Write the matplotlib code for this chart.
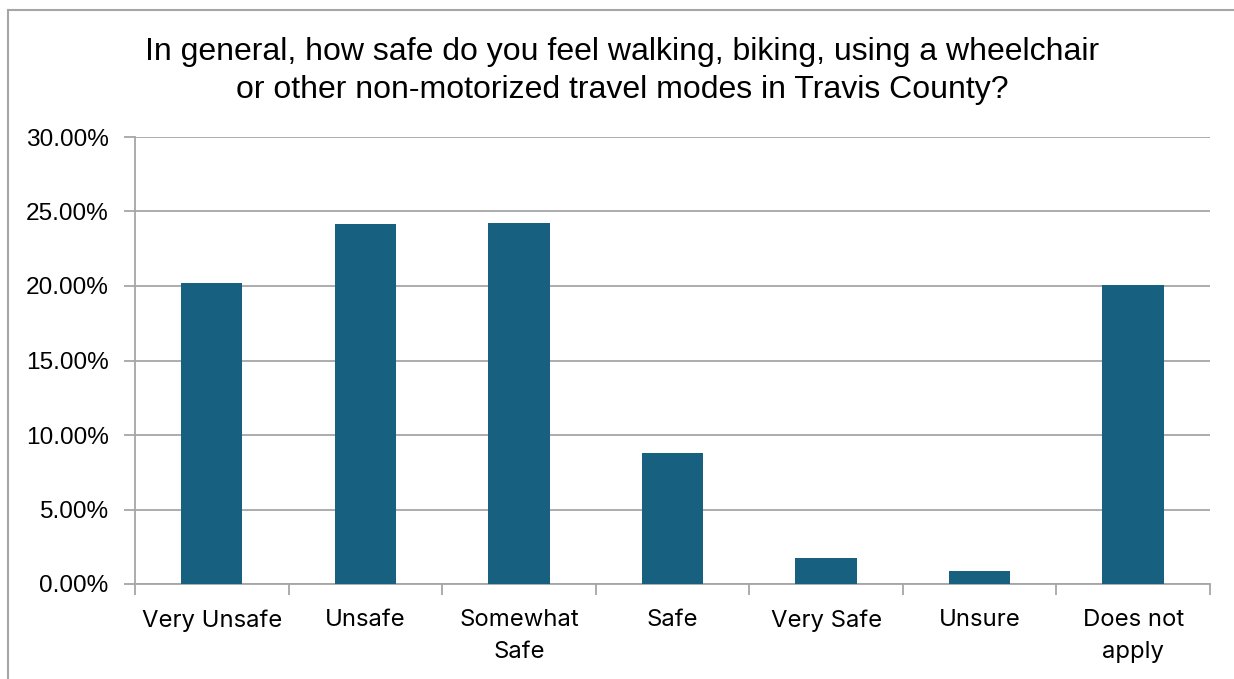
import matplotlib.pyplot as plt
from matplotlib.lines import Line2D
from matplotlib.ticker import FuncFormatter, FixedLocator

categories = ['Very Unsafe', 'Unsafe', 'Somewhat\nSafe', 'Safe', 'Very Safe', 'Unsure', 'Does not\napply']
shares = [20.2, 24.13, 24.25, 8.78, 1.72, 0.86, 20.08]
yticks = [0, 5, 10, 15, 20, 25, 30]

bar_color = '#17607F'
grid_color = '#A6A6A6'

fig = plt.figure(figsize=(12.34, 6.79), dpi=100)
ax = fig.add_axes([135 / 1234, 1 - 584 / 679, (1210 - 135) / 1234, (584 - 137) / 679])

x = list(range(len(categories)))
ax.bar(x, shares, width=0.4, color=bar_color, zorder=3)

ax.set_xlim(-0.5, len(categories) - 0.5)
ax.set_ylim(0, 30)

# y axis: gridlines plus small outside ticks
ax.set_yticks(yticks)
ax.yaxis.set_major_formatter(FuncFormatter(lambda v, p: '%.2f%%' % v))
ax.grid(axis='y', color=grid_color, linewidth=1.3, zorder=0)
ax.tick_params(axis='y', length=8, width=1.3, color=grid_color, pad=11,
               labelsize=17.6, labelcolor='black')
for lab in ax.get_yticklabels():
    lab.set_family('Liberation Sans')

# x axis: labels at centres, tick marks at category boundaries
ax.set_xticks(x)
ax.set_xticklabels(categories, family='Inter', fontsize=17.2, linespacing=1.6)
ax.xaxis.set_minor_locator(FixedLocator([i - 0.5 for i in range(len(categories) + 1)]))
ax.tick_params(axis='x', which='major', length=0, pad=18)
ax.tick_params(axis='x', which='minor', length=8, width=1.3, color=grid_color)

for side in ['top', 'right']:
    ax.spines[side].set_visible(False)
for side in ['left', 'bottom']:
    ax.spines[side].set_color(grid_color)
    ax.spines[side].set_linewidth(1.3)

fig.text(0.5 + 5 / 1234, 1 - 71 / 679,
         'In general, how safe do you feel walking, biking, using a wheelchair\n'
         'or other non-motorized travel modes in Travis County?',
         ha='center', va='center', fontsize=23, family='Liberation Sans',
         linespacing=1.32)

# chart area border (only top and left edges visible)
fig.add_artist(Line2D([7.5 / 1234, 7.5 / 1234], [0, 1 - 10 / 679],
                      transform=fig.transFigure, color=grid_color, linewidth=1.5))
fig.add_artist(Line2D([7.5 / 1234, 1], [1 - 10 / 679, 1 - 10 / 679],
                      transform=fig.transFigure, color=grid_color, linewidth=1.5))

fig.savefig('out.png', dpi=100)
